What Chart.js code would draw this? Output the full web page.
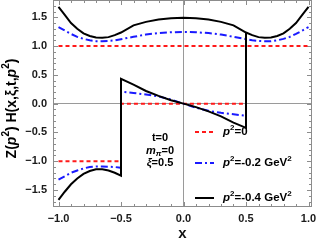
<!DOCTYPE html>
<html>
<head>
<meta charset="utf-8">
<script src="https://cdn.jsdelivr.net/npm/chart.js@4.4.1/dist/chart.umd.min.js"></script>
<style>
  html, body { margin: 0; padding: 0; background: #fff; }
  #wrap { width: 316px; height: 245px; }
</style>
</head>
<body>
<div id="wrap"><canvas id="chart" width="316" height="245"></canvas></div>
<script>
// upper branch (full x range)
const xUpper = [-1, -0.95, -0.9, -0.85, -0.8, -0.75, -0.7, -0.65, -0.6, -0.55, -0.5, -0.4, -0.3, -0.2, -0.1, 0,
  0.1, 0.2, 0.3, 0.4, 0.5, 0.55, 0.6, 0.65, 0.7, 0.75, 0.8, 0.85, 0.9, 0.95, 1];
const redUpper = [1, 1, 1, 1, 1, 1, 1, 1, 1, 1, 1, 1, 1, 1, 1, 1, 1, 1, 1, 1, 1, 1, 1, 1, 1, 1, 1, 1, 1, 1, 1];
const blueUpper = [1.33, 1.27, 1.21, 1.16, 1.125, 1.10, 1.085, 1.085, 1.09, 1.10, 1.12, 1.16, 1.20, 1.225, 1.24, 1.245,
  1.24, 1.225, 1.20, 1.16, 1.12, 1.10, 1.09, 1.085, 1.085, 1.10, 1.125, 1.16, 1.21, 1.27, 1.33];
const blackUpper = [1.68, 1.54, 1.40, 1.30, 1.22, 1.175, 1.15, 1.145, 1.155, 1.19, 1.235, 1.36, 1.42, 1.46, 1.485, 1.49,
  1.485, 1.46, 1.42, 1.36, 1.235, 1.19, 1.155, 1.145, 1.15, 1.175, 1.22, 1.30, 1.40, 1.54, 1.68];

// lower branch: x < -0.5, jump at -0.5, middle part, jump back up at 0.5
const xLower = [-1, -0.95, -0.9, -0.85, -0.8, -0.75, -0.7, -0.65, -0.6, -0.55, -0.5,
  -0.5, -0.4, -0.3, -0.2, -0.1, 0, 0.1, 0.2, 0.3, 0.4, 0.5, 0.5];
const redLower = [-1, -1, -1, -1, -1, -1, -1, -1, -1, -1, -1,
  0, 0, 0, 0, 0, 0, 0, 0, 0, 0, 0, 1];
const blueLower = [-1.32, -1.26, -1.20, -1.16, -1.125, -1.10, -1.09, -1.09, -1.095, -1.10, -1.115,
  0.21, 0.185, 0.16, 0.125, 0.07, 0, -0.07, -0.125, -0.16, -0.185, -0.21, 1.12];
const blackLower = [-1.67, -1.53, -1.40, -1.30, -1.22, -1.17, -1.14, -1.14, -1.16, -1.20, -1.25,
  0.43, 0.33, 0.22, 0.135, 0.06, 0, -0.06, -0.135, -0.22, -0.33, -0.42, 1.235];

const xTicks = [-1, -0.5, 0, 0.5, 1];
const yTicks = [-1.5, -1, -0.5, 0, 0.5, 1, 1.5];

const RED = "#ff1a1a", BLUE = "#1a1aff", BLACK = "#000000";
const redDash = [4, 3];
const blueDash = [7, 3, 2, 3];

const pts = (xs, ys) => xs.map((x, i) => ({ x: x, y: ys[i] }));

function lineSet(data, color, dash) {
  return {
    data: data,
    borderColor: color,
    borderWidth: 2,
    borderDash: dash,
    pointRadius: 0,
    tension: 0,
    fill: false
  };
}

const fmt = v => (v < 0 ? "\u2212" : "") + Math.abs(v).toFixed(1);
const FONT = "'Liberation Sans', Arial, sans-serif";

function partFont(p, size) {
  const fs = (p.sup || p.sub) ? Math.round(size * 0.7) : size;
  return (p.it ? "italic " : "") + "bold " + fs + "px " + FONT;
}

function richWidth(ctx, parts, size) {
  let w = 0;
  parts.forEach(p => { ctx.font = partFont(p, size); w += ctx.measureText(p.t).width; });
  return w;
}

// rich text: parts with italic / superscript / subscript
function drawRich(ctx, x, y, parts, size) {
  let cx = x;
  parts.forEach(p => {
    ctx.font = partFont(p, size);
    let dy = 0;
    if (p.sup) dy = -size * 0.38;
    if (p.sub) dy = size * 0.25;
    ctx.fillText(p.t, cx, y + dy);
    cx += ctx.measureText(p.t).width;
  });
  return cx;
}

const framePlugin = {
  id: "frame",
  beforeDatasetsDraw(chart) {
    const { ctx, chartArea: a, scales } = chart;
    ctx.save();
    ctx.strokeStyle = "#8c8c8c";
    ctx.lineWidth = 1;
    ctx.strokeRect(a.left + 0.5, a.top + 0.5, a.right - a.left - 1, a.bottom - a.top - 1);
    ctx.beginPath();
    for (let i = -10; i <= 10; i++) {
      const v = i / 10;
      const len = i % 5 === 0 ? 5 : 3;
      const px = Math.round(scales.x.getPixelForValue(v)) + 0.5;
      ctx.moveTo(px, a.bottom); ctx.lineTo(px, a.bottom - len);
      ctx.moveTo(px, a.top); ctx.lineTo(px, a.top + len);
    }
    for (let i = -17; i <= 17; i++) {
      const v = i / 10;
      const len = i % 5 === 0 ? 5 : 3;
      const py = Math.round(scales.y.getPixelForValue(v)) + 0.5;
      ctx.moveTo(a.left, py); ctx.lineTo(a.left + len, py);
      ctx.moveTo(a.right, py); ctx.lineTo(a.right - len, py);
    }
    ctx.stroke();
    ctx.restore();
  },
  afterDraw(chart) {
    const { ctx, chartArea: a } = chart;
    ctx.save();
    ctx.fillStyle = "#000";
    ctx.textBaseline = "middle";
    ctx.textAlign = "left";

    // y axis title, rotated
    const yTitle = [{ t: "Z(" }, { t: "p", it: true }, { t: "2", sup: true }, { t: ") H(x,\u03be,t," },
      { t: "p", it: true }, { t: "2", sup: true }, { t: ")" }];
    ctx.save();
    ctx.translate(12, (a.top + a.bottom) / 2 + 5);
    ctx.rotate(-Math.PI / 2);
    const tw = richWidth(ctx, yTitle, 14);
    drawRich(ctx, -tw / 2, 0, yTitle, 14);
    ctx.restore();

    // parameter notes
    const notes = [
      { y: 138, parts: [{ t: "t=0" }] },
      { y: 151, parts: [{ t: "m", it: true }, { t: "\u03c0", sub: true, it: true }, { t: "=0" }] },
      { y: 163, parts: [{ t: "\u03be", it: true }, { t: "=0.5" }] }
    ];
    notes.forEach(n => {
      const w = richWidth(ctx, n.parts, 11);
      drawRich(ctx, 160 - w / 2, n.y, n.parts, 11);
    });

    // legend
    const legend = [
      { y: 132, color: RED, dash: redDash, parts: [{ t: "p", it: true }, { t: "2", sup: true }, { t: "=0" }] },
      { y: 163, color: BLUE, dash: blueDash, parts: [{ t: "p", it: true }, { t: "2", sup: true }, { t: "=-0.2 GeV" }, { t: "2", sup: true }] },
      { y: 198, color: BLACK, dash: [], parts: [{ t: "p", it: true }, { t: "2", sup: true }, { t: "=-0.4 GeV" }, { t: "2", sup: true }] }
    ];
    legend.forEach(l => {
      ctx.beginPath();
      ctx.strokeStyle = l.color;
      ctx.lineWidth = 2;
      ctx.setLineDash(l.dash);
      ctx.moveTo(195, l.y);
      ctx.lineTo(214, l.y);
      ctx.stroke();
      ctx.setLineDash([]);
      drawRich(ctx, 223, l.y, l.parts, 11.5);
    });
    ctx.restore();
  }
};

new Chart(document.getElementById("chart"), {
  type: "line",
  data: {
    datasets: [
      lineSet(pts(xLower, blackLower), BLACK, []),
      lineSet(pts(xUpper, blackUpper), BLACK, []),
      lineSet(pts(xLower, blueLower), BLUE, blueDash),
      lineSet(pts(xUpper, blueUpper), BLUE, blueDash),
      lineSet(pts(xLower, redLower), RED, redDash),
      lineSet(pts(xUpper, redUpper), RED, redDash)
    ]
  },
  options: {
    responsive: false,
    animation: false,
    devicePixelRatio: 1,
    layout: { padding: { top: 0, right: 4, left: 0, bottom: 0 } },
    plugins: { legend: { display: false }, tooltip: { enabled: false } },
    scales: {
      x: {
        type: "linear",
        min: -1.044,
        max: 1.028,
        afterBuildTicks: s => { s.ticks = xTicks.map(v => ({ value: v })); },
        afterFit: s => { s.height = 38; s.paddingLeft = 0; s.paddingRight = 0; },
        grid: {
          color: c => (c.tick && c.tick.value === 0 ? "#9a9a9a" : "rgba(0,0,0,0)"),
          drawTicks: false
        },
        border: { display: false },
        ticks: {
          padding: 5,
          color: "#1a1a1a",
          font: { family: FONT, size: 11, weight: "bold" },
          callback: v => fmt(v),
          maxRotation: 0
        },
        title: {
          display: true,
          text: "x",
          color: "#111",
          font: { family: FONT, size: 15, weight: "bold" },
          padding: { top: 0, bottom: 2 }
        }
      },
      y: {
        type: "linear",
        min: -1.795,
        max: 1.8,
        afterBuildTicks: s => { s.ticks = yTicks.map(v => ({ value: v })); },
        afterFit: s => { s.width = 53; s.paddingTop = 0; s.paddingBottom = 0; },
        grid: {
          color: c => (c.tick && c.tick.value === 0 ? "#9a9a9a" : "rgba(0,0,0,0)"),
          drawTicks: false
        },
        border: { display: false },
        ticks: {
          padding: 6,
          color: "#1a1a1a",
          font: { family: FONT, size: 11, weight: "bold" },
          callback: v => fmt(v)
        }
      }
    }
  },
  plugins: [framePlugin]
});
</script>
</body>
</html>
